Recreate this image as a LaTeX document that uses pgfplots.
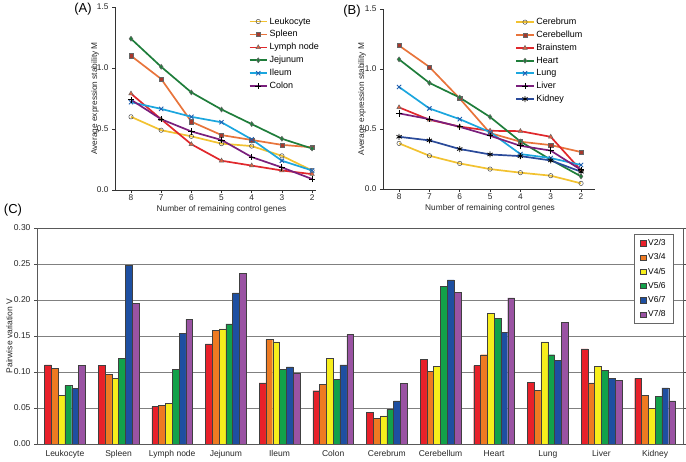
\documentclass[border=0pt]{standalone}
\usepackage{fontspec}
\setmainfont{Liberation Sans}
\usepackage{pgfplots}
\usepackage{pgfplotstable}
\pgfplotsset{compat=1.18}

\definecolor{cYel}{HTML}{F2C230}
\definecolor{cYelM}{HTML}{F6E45A}
\definecolor{cOra}{HTML}{E8743B}
\definecolor{cOraM}{HTML}{A8382C}
\definecolor{cRed}{HTML}{E0282C}
\definecolor{cRedM}{HTML}{E8603C}
\definecolor{cGrn}{HTML}{1E7D3A}
\definecolor{cCya}{HTML}{1BA6DE}
\definecolor{cCyaM}{HTML}{2060B0}
\definecolor{cPur}{HTML}{7A1F7C}
\definecolor{cKid}{HTML}{2A4A9A}

\definecolor{bR}{HTML}{E8202A}
\definecolor{bO}{HTML}{EE7A22}
\definecolor{bY}{HTML}{F7EE1C}
\definecolor{bG}{HTML}{12A14A}
\definecolor{bB}{HTML}{1E4FA1}
\definecolor{bP}{HTML}{9A53A3}

% panel A: x index 0..6 = genes 8..2
\pgfplotstableread{
x  leu  spl   lym   jej   ile   col
0  0.60 1.10  0.79  1.24  0.72  0.74
1  0.49 0.91  0.58  1.01  0.665 0.58
2  0.44 0.56  0.375 0.80  0.60  0.48
3  0.38 0.45  0.24  0.66  0.555 0.41
4  0.36 0.41  0.20  0.54  0.415 0.27
5  0.28 0.37  0.16  0.42  0.24  0.185
6  0.16 0.35  0.13  0.34  0.16  0.09
}\dataA

\pgfplotstableread{
x  cer   cbl   brs   hea   lun   liv   kid
0  0.38  1.195 0.68  1.08  0.85  0.63  0.435
1  0.277 1.017 0.577 0.884 0.671 0.582 0.405
2  0.213 0.754 0.52  0.762 0.582 0.518 0.333
3  0.166 0.466 0.485 0.60  0.474 0.444 0.288
4  0.136 0.394 0.482 0.396 0.291 0.36  0.274
5  0.111 0.366 0.435 0.244 0.258 0.32  0.238
6  0.047 0.308 0.155 0.105 0.20  0.16  0.144
}\dataB

\pgfplotstableread{
x  r     o     y     g     b     p
0  0.110 0.105 0.068 0.081 0.077 0.109
1  0.109 0.097 0.091 0.119 0.248 0.195
2  0.052 0.054 0.056 0.104 0.154 0.173
3  0.139 0.158 0.160 0.167 0.210 0.237
4  0.085 0.145 0.142 0.104 0.107 0.098
5  0.074 0.083 0.119 0.090 0.110 0.152
6  0.044 0.036 0.039 0.048 0.060 0.084
7  0.118 0.101 0.108 0.219 0.228 0.211
8  0.109 0.124 0.181 0.175 0.155 0.203
9  0.086 0.075 0.142 0.124 0.116 0.169
10 0.132 0.085 0.108 0.102 0.091 0.088
11 0.091 0.068 0.050 0.066 0.078 0.060
}\dataC

\pgfplotsset{
  lineax/.style={
    scale only axis,
    axis x line*=bottom, axis y line*=left,
    axis line style={-, black!80, line width=0.6pt},
    tick align=outside,
    major tick length=3pt,
    tick style={black!80, line width=0.6pt},
    xmin=-0.53,
    xtick={0,...,6}, xticklabels={8,7,6,5,4,3,2},
    xticklabel style={yshift=2pt},
    ymin=0, ymax=1.5, ytick={0,0.5,1,1.5},
    yticklabel style={/pgf/number format/.cd, fixed, fixed zerofill, precision=1},
    /pgf/number format/assume math mode=true,
    tick label style={font=\fontsize{8.3}{9}\selectfont, black!85},
    label style={font=\fontsize{8.3}{9}\selectfont, black!85},
    xlabel={Number of remaining control genes},
    ylabel={Average expression stability M},
    legend style={draw=none, fill=none, font=\fontsize{9}{10}\selectfont, anchor=north west,
      row sep=0.9pt, inner sep=1pt, legend cell align=left},
    every axis plot/.append style={line width=1.7pt},
  },
}

\begin{document}
\begin{tikzpicture}
\useasboundingbox (0pt,0pt) rectangle (686pt,461pt);

% ---------------- Panel A
\begin{axis}[lineax, at={(115pt,271pt)}, anchor=south west, width=201pt, height=183pt,
  xmax=6.13,
  xlabel style={at={(axis description cs:0.53,-0.105)}, anchor=center},
  ylabel style={at={(axis description cs:-0.10,0.5)}, anchor=center},
  legend style={at={(axis description cs:0.66,0.96)}}]
\addplot[cYel, mark=o, mark size=2.2pt, mark options={fill=cYelM, draw=black!70, line width=0.5pt, solid}] table[x=x,y=leu]{\dataA};
\addlegendentry{Leukocyte}
\addplot[cOra, mark=square*, mark size=2.1pt, mark options={fill=cOraM, draw=black!60, line width=0.5pt}] table[x=x,y=spl]{\dataA};
\addlegendentry{Spleen}
\addplot[cRed, mark=triangle*, mark size=2.6pt, mark options={fill=cRedM, draw=black!60, line width=0.5pt}] table[x=x,y=lym]{\dataA};
\addlegendentry{Lymph node}
\addplot[cGrn, mark=diamond*, mark size=2.5pt, mark options={fill=cGrn, draw=black!60, line width=0.5pt}] table[x=x,y=jej]{\dataA};
\addlegendentry{Jejunum}
\addplot[cCya, mark=x, mark size=3pt, mark options={draw=cCyaM, line width=0.9pt}] table[x=x,y=ile]{\dataA};
\addlegendentry{Ileum}
\addplot[cPur, mark=+, mark size=3.2pt, mark options={draw=black, line width=0.9pt}] table[x=x,y=col]{\dataA};
\addlegendentry{Colon}
\end{axis}

% ---------------- Panel B
\begin{axis}[lineax, at={(383pt,272pt)}, anchor=south west, width=212pt, height=180pt,
  xmax=6.46,
  xlabel style={at={(axis description cs:0.505,-0.11)}, anchor=center},
  ylabel style={at={(axis description cs:-0.099,0.5)}, anchor=center},
  legend style={at={(axis description cs:0.62,0.967)}}]
\addplot[cYel, mark=o, mark size=2.2pt, mark options={fill=cYelM, draw=black!70, line width=0.5pt, solid}] table[x=x,y=cer]{\dataB};
\addlegendentry{Cerebrum}
\addplot[cOra, mark=square*, mark size=2.1pt, mark options={fill=cOraM, draw=black!60, line width=0.5pt}] table[x=x,y=cbl]{\dataB};
\addlegendentry{Cerebellum}
\addplot[cRed, mark=triangle*, mark size=2.6pt, mark options={fill=cRedM, draw=black!60, line width=0.5pt}] table[x=x,y=brs]{\dataB};
\addlegendentry{Brainstem}
\addplot[cGrn, mark=diamond*, mark size=2.5pt, mark options={fill=cGrn, draw=black!60, line width=0.5pt}] table[x=x,y=hea]{\dataB};
\addlegendentry{Heart}
\addplot[cCya, mark=x, mark size=3pt, mark options={draw=cCyaM, line width=0.9pt}] table[x=x,y=lun]{\dataB};
\addlegendentry{Lung}
\addplot[cPur, mark=+, mark size=3.2pt, mark options={draw=black, line width=0.9pt}] table[x=x,y=liv]{\dataB};
\addlegendentry{Liver}
\addplot[cKid, mark=asterisk, mark size=3pt, mark options={draw=black, line width=0.8pt}] table[x=x,y=kid]{\dataB};
\addlegendentry{Kidney}
\end{axis}

% ---------------- Panel C
\begin{axis}[scale only axis, at={(37pt,17pt)}, anchor=south west, width=646pt, height=216pt,
  ybar=0pt, bar width=6.8pt,
  xmin=-0.52, xmax=11.52, ymin=0, ymax=0.30,
  xtick={0,...,11},
  xticklabels={Leukocyte,Spleen,Lymph node,Jejunum,Ileum,Colon,Cerebrum,Cerebellum,Heart,Lung,Liver,Kidney},
  x tick style={draw=none},
  ytick={0,0.05,...,0.3},
  yticklabel style={/pgf/number format/.cd, fixed, fixed zerofill, precision=2},
  /pgf/number format/assume math mode=true,
  tick align=outside, major tick length=3pt,
  y tick style={black!70},
  axis line style={black!65, line width=0.6pt},
  ymajorgrids, grid style={black!50, line width=0.8pt},
  tick label style={font=\fontsize{8.5}{10}\selectfont, black!85},
  ylabel={Pairwise variation V},
  ylabel style={font=\fontsize{8.5}{10}\selectfont, black!85, at={(axis description cs:-0.043,0.5)}, anchor=center},
  every axis plot/.append style={draw=black!75, line width=0.4pt},
  legend image code/.code={\draw[#1, line width=0.4pt] (0pt,-2.7pt) rectangle (5.4pt,2.7pt);},
  legend style={at={(axis description cs:0.986,0.972)}, anchor=north east, draw=black!60, line width=0.6pt,
    font=\fontsize{8.5}{10}\selectfont, row sep=2.6pt, inner ysep=3pt, inner xsep=6pt, legend cell align=left},
]
\addplot[fill=bR] table[x=x,y=r]{\dataC}; \addlegendentry{V2/3}
\addplot[fill=bO] table[x=x,y=o]{\dataC}; \addlegendentry{V3/4}
\addplot[fill=bY] table[x=x,y=y]{\dataC}; \addlegendentry{V4/5}
\addplot[fill=bG] table[x=x,y=g]{\dataC}; \addlegendentry{V5/6}
\addplot[fill=bB] table[x=x,y=b]{\dataC}; \addlegendentry{V6/7}
\addplot[fill=bP] table[x=x,y=p]{\dataC}; \addlegendentry{V7/8}
\end{axis}

\node[font=\fontsize{13}{14}\selectfont] at (83pt,452pt) {(A)};
\node[font=\fontsize{13}{14}\selectfont] at (352pt,450pt) {(B)};
\node[font=\fontsize{13}{14}\selectfont] at (13pt,251pt) {(C)};
\end{tikzpicture}
\end{document}
